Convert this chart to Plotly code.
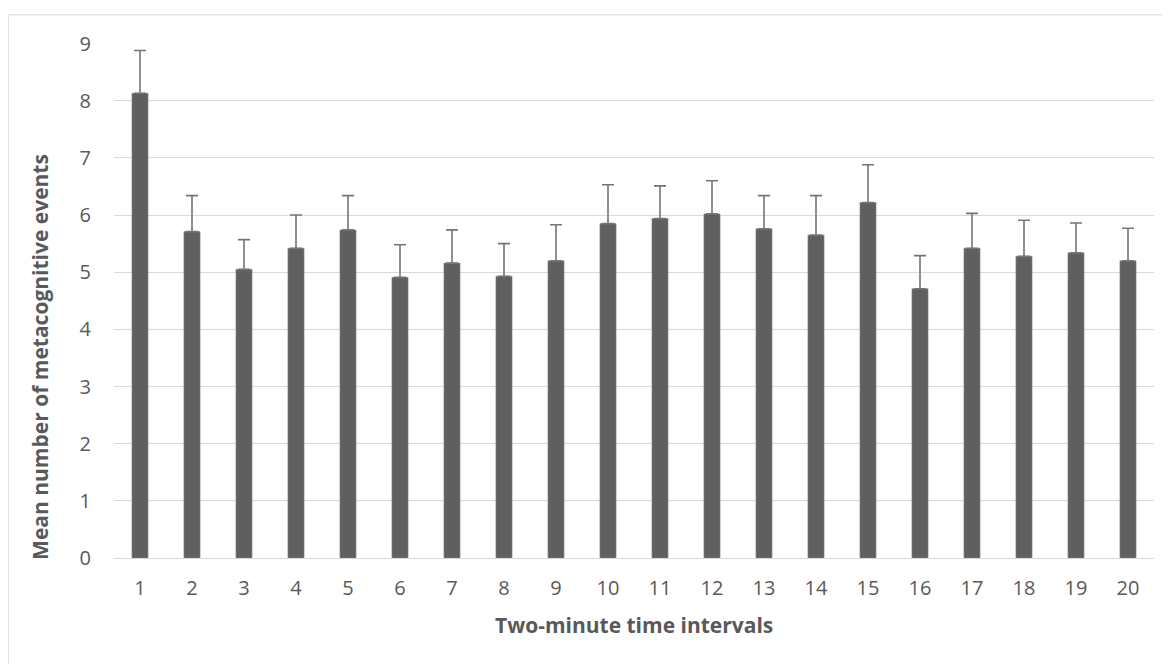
import plotly.graph_objects as go

intervals = [str(i) for i in range(1, 21)]
means = [8.13, 5.71, 5.05, 5.42, 5.74, 4.91, 5.16, 4.93, 5.20, 5.85,
         5.94, 6.02, 5.76, 5.65, 6.22, 4.71, 5.42, 5.28, 5.34, 5.20]
errors = [0.75, 0.63, 0.52, 0.58, 0.60, 0.57, 0.58, 0.57, 0.63, 0.68,
          0.57, 0.58, 0.58, 0.69, 0.66, 0.58, 0.61, 0.63, 0.52, 0.57]
zeros = [0] * len(errors)
y_ticks = list(range(0, 10))
x_title = "Two-minute time intervals"
y_title = "Mean number of metacognitive events"

TXT = "#595959"
GRID = "#d9d9d9"

fig = go.Figure()
fig.add_trace(go.Bar(
    x=intervals, y=means,
    marker=dict(color="#5f5f5f", line=dict(color="#8a8a8a", width=0.6)),
    width=0.31,
    error_y=dict(type="data", array=errors, arrayminus=zeros, symmetric=False,
                 color="#757575", thickness=1.6, width=6),
))

fig.update_layout(
    width=1163, height=656,
    margin=dict(l=106, r=17, t=35, b=106),
    plot_bgcolor="white", paper_bgcolor="white",
    font=dict(family="Open Sans", color=TXT),
    showlegend=False,
    xaxis=dict(
        tickfont=dict(size=20, color=TXT),
        showgrid=False, showline=True, linecolor=GRID, linewidth=1,
        ticks="", ticklabelstandoff=12,
    ),
    yaxis=dict(
        range=[0, 9.01], tickvals=y_ticks,
        tickfont=dict(size=20, color=TXT),
        showgrid=True, gridcolor=GRID, gridwidth=1,
        zeroline=False, showline=False, ticks="", ticklabelstandoff=22,
    ),
    annotations=[
        dict(text="<b>" + x_title + "</b>", xref="paper", yref="paper",
             x=0.5, y=-0.130, xanchor="center", yanchor="middle",
             showarrow=False, font=dict(size=21, color=TXT)),
        dict(text="<b>" + y_title + "</b>", xref="paper", yref="paper",
             x=-0.0714, y=0.39, xanchor="center", yanchor="middle", textangle=-90,
             showarrow=False, font=dict(size=21, color=TXT)),
    ],
    shapes=[dict(type="rect", xref="paper", yref="paper",
                 x0=-0.1017, x1=1.2, y0=-0.4, y1=1.0547,
                 line=dict(color=GRID, width=1), fillcolor="rgba(0,0,0,0)", layer="below")],
)

fig.write_html("out.html")
